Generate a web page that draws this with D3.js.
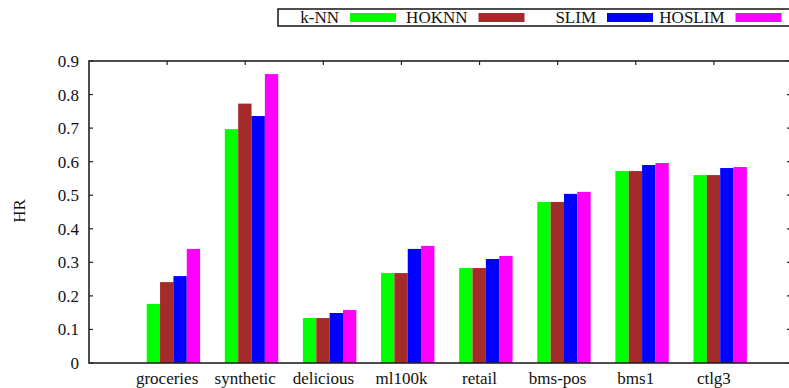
<!DOCTYPE html>
<html lang="en">
<head>
    <meta charset="UTF-8">
    <title>HR by dataset</title>
    <script src="https://d3js.org/d3.v7.min.js"></script>
    <style>
        body { margin: 0; background: #fff; }
        svg { display: block; }
        text {
            font-family: "Liberation Serif", "Times New Roman", serif;
            font-size: 17px;
            fill: #111;
        }
        .frame {
            fill: none;
            stroke: #222;
            stroke-width: 1.6px;
        }
        .tick-mark {
            stroke: #222;
            stroke-width: 1.2px;
        }
    </style>
</head>
<body>
    <svg width="789" height="388"></svg>

    <script>
        // Data
        const datasets = ["groceries", "synthetic", "delicious", "ml100k", "retail", "bms-pos", "bms1", "ctlg3"];
        const methods = ["k-NN", "HOKNN", "SLIM", "HOSLIM"];
        const colors = ["#00ff00", "#a52a2a", "#0000ff", "#ff00ff"];

        const knn    = [0.176, 0.697, 0.134, 0.268, 0.283, 0.480, 0.572, 0.560];
        const hoknn  = [0.241, 0.773, 0.134, 0.268, 0.283, 0.480, 0.572, 0.560];
        const slim   = [0.259, 0.736, 0.149, 0.340, 0.310, 0.504, 0.590, 0.581];
        const hoslim = [0.340, 0.861, 0.158, 0.349, 0.319, 0.510, 0.596, 0.584];

        const yTicks = [0, 0.1, 0.2, 0.3, 0.4, 0.5, 0.6, 0.7, 0.8, 0.9];

        const seriesValues = [knn, hoknn, slim, hoslim];

        const svg = d3.select("svg");

        const plotLeft = 89, plotRight = 792, plotTop = 61, plotBottom = 363;

        // category index -1 .. 8 spans the frame
        const x = d3.scaleLinear().domain([-1, 8]).range([plotLeft, plotRight]);
        const y = d3.scaleLinear().domain([0, 0.9]).range([plotBottom, plotTop]);

        // bars in a cluster sit a little right of the tick
        const inner = d3.scaleBand().domain(methods).range([-20.4, 33]);

        // bars
        const rows = [];
        datasets.forEach((d, i) => {
            methods.forEach((m, j) => {
                rows.push({ i, m, j, v: seriesValues[j][i] });
            });
        });

        svg.append("g")
            .selectAll("rect")
            .data(rows)
            .enter().append("rect")
            .attr("x", d => x(d.i) + inner(d.m))
            .attr("width", inner.bandwidth())
            .attr("y", d => y(d.v))
            .attr("height", d => y(0) - y(d.v))
            .attr("fill", d => colors[d.j]);

        // ticks (gnuplot style: inward on all sides)
        const tickG = svg.append("g");
        yTicks.forEach(t => {
            tickG.append("line").attr("class", "tick-mark")
                .attr("x1", plotLeft).attr("x2", plotLeft + 4)
                .attr("y1", y(t)).attr("y2", y(t));
            tickG.append("line").attr("class", "tick-mark")
                .attr("x1", plotRight - 5).attr("x2", plotRight)
                .attr("y1", y(t)).attr("y2", y(t));
            tickG.append("text")
                .attr("x", plotLeft - 10)
                .attr("y", y(t))
                .attr("dy", "0.35em")
                .attr("text-anchor", "end")
                .text(d3.format("")(t));
        });

        datasets.forEach((d, i) => {
            tickG.append("line").attr("class", "tick-mark")
                .attr("x1", x(i)).attr("x2", x(i))
                .attr("y1", plotTop).attr("y2", plotTop + 4);
            tickG.append("text")
                .attr("x", x(i))
                .attr("y", 384)
                .attr("text-anchor", "middle")
                .text(d);
        });

        // frame
        svg.append("rect").attr("class", "frame")
            .attr("x", plotLeft).attr("y", plotTop)
            .attr("width", plotRight - plotLeft).attr("height", plotBottom - plotTop);

        // y label
        svg.append("text")
            .attr("transform", `translate(19,211) rotate(-90)`)
            .attr("dy", "0.35em")
            .attr("text-anchor", "middle")
            .text("HR");

        // legend
        const legend = svg.append("g");
        legend.append("rect").attr("class", "frame")
            .attr("x", 278).attr("y", 9)
            .attr("width", 520).attr("height", 17);

        methods.forEach((m, j) => {
            const sx = 350 + j * 128.5;
            legend.append("text")
                .attr("x", sx - 11)
                .attr("y", 17.5)
                .attr("dy", "0.35em")
                .attr("text-anchor", "end")
                .text(m);
            legend.append("rect")
                .attr("x", sx).attr("y", 13)
                .attr("width", 46).attr("height", 9)
                .attr("fill", colors[j]);
        });
    </script>
</body>
</html>
